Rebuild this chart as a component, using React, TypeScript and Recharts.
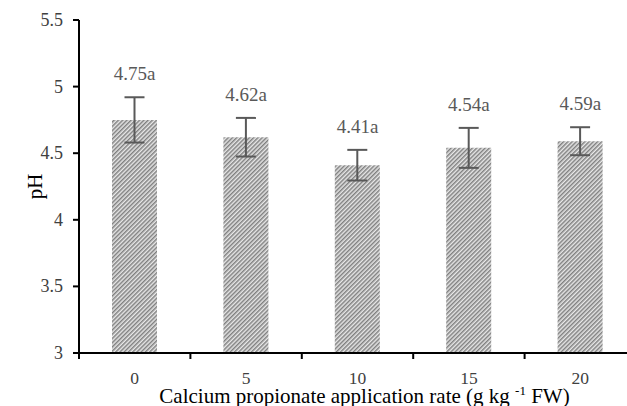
import React from 'react';
import { ComposedChart, Bar, Line, XAxis, YAxis, ErrorBar, LabelList } from 'recharts';

const categories = ['0', '5', '10', '15', '20'];
const phValues = [4.75, 4.62, 4.41, 4.54, 4.59];
const errValues = [0.17, 0.145, 0.115, 0.15, 0.105];
const letters = ['a', 'a', 'a', 'a', 'a'];
const yTicks = [3, 3.5, 4, 4.5, 5, 5.5];

const data = categories.map((c, i) => ({
  cat: c,
  ph: phValues[i],
  err: errValues[i],
  hi: phValues[i] + errValues[i],
  label: phValues[i].toFixed(2) + letters[i],
}));

const FONT = 'Liberation Serif';
const TICK_SIZE = 6;
const TICK_MARGIN = 13;

const XTick = (props: any) => {
  const { x, y, payload } = props;
  const off = payload && typeof payload.offset === 'number' ? payload.offset : 0;
  const axisY = y - TICK_SIZE - TICK_MARGIN;
  return (
    <g>
      <line x1={x - off} x2={x - off} y1={axisY} y2={axisY + TICK_SIZE} stroke="#000" strokeWidth={2} />
      <text x={x} y={y + 12} textAnchor="middle" fontFamily={FONT} fontSize={17.5} fill="#404040">
        {payload.value}
      </text>
    </g>
  );
};

const YTick = (props: any) => {
  const { x, y, payload } = props;
  return (
    <text x={x} y={y} dy={6} textAnchor="end" fontFamily={FONT} fontSize={18} fill="#404040">
      {String(payload.value)}
    </text>
  );
};

const ValueLabel = (props: any) => {
  const { x, y, value } = props;
  return (
    <text x={x} y={y - 17} textAnchor="middle" fontFamily={FONT} fontSize={19} fill="#595959">
      {value}
    </text>
  );
};

const XTitle = (props: any) => {
  const vb = props.viewBox || {};
  const cx = vb.x + vb.width / 2 + 7;
  const ty = vb.y + 50;
  return (
    <text x={cx} y={ty} textAnchor="middle" fontFamily={FONT} fontSize={21} fill="#000">
      <tspan>Calcium propionate application rate (g kg </tspan>
      <tspan fontSize={13} dy={-8}>-1</tspan>
      <tspan dy={8}> FW)</tspan>
    </text>
  );
};

const YTitle = (props: any) => {
  const vb = props.viewBox || {};
  const cy = vb.y + vb.height / 2;
  return (
    <text x={35} y={cy} transform={`rotate(-90, 35, ${cy})`} textAnchor="middle" dominantBaseline="central" fontFamily={FONT} fontSize={21} fill="#000">
      pH
    </text>
  );
};

export default function App() {
  return (
    <div style={{ position: 'absolute', left: 0, top: 0, width: 627, height: 406, overflow: 'hidden', background: '#fff' }}>
      <ComposedChart width={640} height={420} data={data} margin={{ top: 20, right: 4, left: 0, bottom: 0 }}>
        <defs>
          <pattern id="stripes" patternUnits="userSpaceOnUse" width={3} height={3} patternTransform="rotate(45)">
            <rect x={0} y={0} width={3} height={3} fill="#e8e8e8" />
            <rect x={0} y={0} width={1.5} height={3} fill="#808080" />
          </pattern>
        </defs>
        <XAxis
          dataKey="cat"
          height={67}
          axisLine={{ stroke: '#000', strokeWidth: 2 }}
          tickLine={false}
          tickSize={TICK_SIZE}
          tickMargin={TICK_MARGIN}
          tick={<XTick />}
          interval={0}
          label={{ content: <XTitle /> }}
        />
        <YAxis
          type="number"
          domain={[3, 5.5]}
          ticks={yTicks}
          width={79}
          axisLine={{ stroke: '#000', strokeWidth: 2 }}
          tickLine={{ stroke: '#000', strokeWidth: 2 }}
          tickSize={6}
          tickMargin={10}
          tick={<YTick />}
          label={{ content: <YTitle /> }}
        />
        <Bar dataKey="ph" barSize={45} fill="url(#stripes)" isAnimationActive={false}>
          <ErrorBar dataKey="err" width={10} stroke="#595959" strokeWidth={2} direction="y" />
        </Bar>
        <Line dataKey="hi" stroke="none" dot={false} activeDot={false} isAnimationActive={false}>
          <LabelList dataKey="label" content={<ValueLabel />} />
        </Line>
      </ComposedChart>
    </div>
  );
}
